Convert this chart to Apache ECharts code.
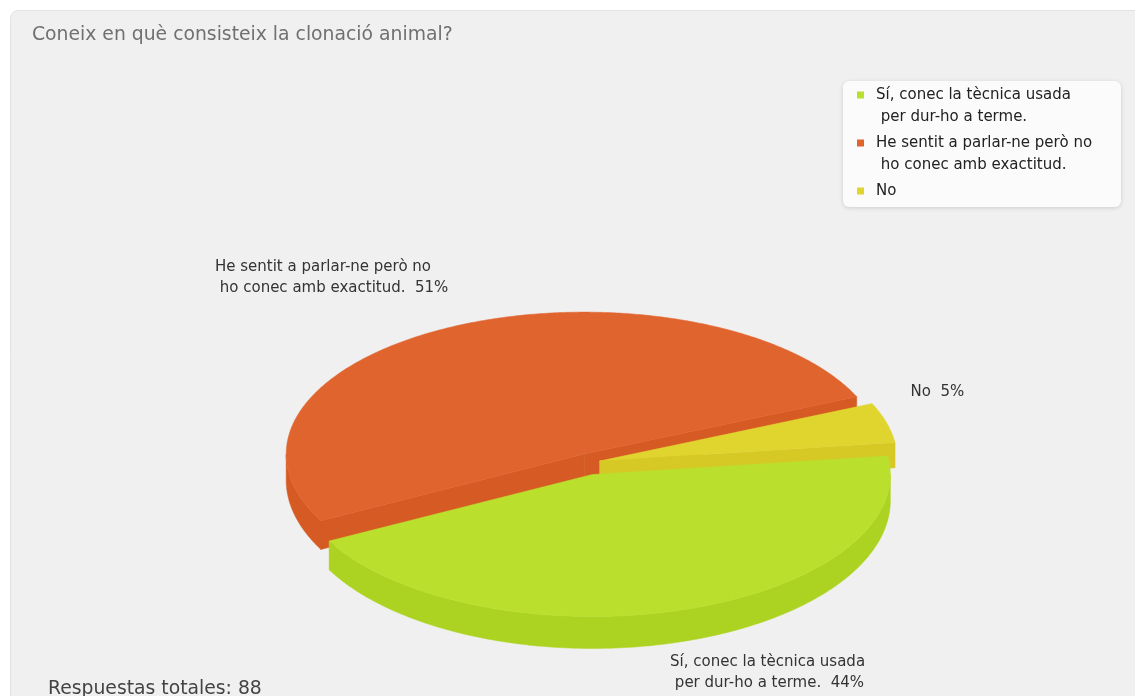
<!DOCTYPE html>
<html>
<head>
<meta charset="utf-8">
<script src="https://cdn.jsdelivr.net/npm/echarts@6.0.0/dist/echarts.min.js"></script>
<style>
  html, body { margin: 0; padding: 0; background: #ffffff; }
  #chart { width: 1135px; height: 696px; }
</style>
</head>
<body>
<div id="chart"></div>
<script>
// Survey question and answers
const TITLE = 'Coneix en què consisteix la clonació animal?';
const CATEGORIES = [
  'Sí, conec la tècnica usada\n per dur-ho a terme.',
  'He sentit a parlar-ne però no\n ho conec amb exactitud.',
  'No'
];
const RESPONSES = [39, 45, 4];
const TOTAL_PREFIX = 'Respuestas totales: ';

// Slice colours: top face and darker side face
const TOP_COLORS = ['#bae02d', '#e0642e', '#e0d52f'];
const SIDE_COLORS = ['#acd321', '#d55a23', '#d6c825'];

// 3D pie geometry (pixels)
const PIE = { cx: 589, cy: 464, rx: 298, ry: 142, depth: 26, tilt: 6, startDeg: -7.5 };
const PULL = 11;                                          // slice separation
const LABEL_SHIFT = [[-13, 42], [-239, -70], [24, -41]];  // label box offset from the rim point
const FONT_LABEL = '15px "DejaVu Sans", sans-serif';
const FONT_TITLE = '18.8px "DejaVu Sans", sans-serif';

const total = RESPONSES.reduce((a, b) => a + b, 0);
const pct = v => Math.round(v / total * 100) + '%';

function arc(cx, cy, rx, ry, a0, a1, step) {
  const pts = [];
  const n = Math.max(2, Math.ceil(Math.abs(a1 - a0) / step));
  for (let j = 0; j <= n; j++) {
    const t = a0 + (a1 - a0) * j / n;
    pts.push([cx + rx * Math.cos(t), cy + ry * Math.sin(t)]);
  }
  return pts;
}

function renderSlice(params, api) {
  const i = params.dataIndex;
  const v = api.value(0);
  let before = 0;
  for (let j = 0; j < i; j++) before += RESPONSES[j];
  const start = PIE.startDeg * Math.PI / 180;
  const a0 = start + before / total * Math.PI * 2;
  const a1 = a0 + v / total * Math.PI * 2;
  const mid = (a0 + a1) / 2;
  const cx = PIE.cx + PULL * Math.cos(mid);
  const cy = PIE.cy + PULL * Math.sin(mid);
  const rx = PIE.rx, ry = PIE.ry;
  const byB = cy + PIE.depth, ryB = ry + PIE.tilt;
  const top = t => [cx + rx * Math.cos(t), cy + ry * Math.sin(t)];
  const bot = t => [cx + rx * Math.cos(t), byB + ryB * Math.sin(t)];
  const step = Math.PI / 360;
  const base = Math.round((Math.sin(mid) + 1) * 10) * 10;
  const side = SIDE_COLORS[i], face = TOP_COLORS[i];
  const children = [];

  // radial cut faces that turn towards the viewer
  const addFace = (t) => children.push({
    type: 'polygon', z2: base + 1,
    shape: { points: [[cx, cy], top(t), bot(t), [cx, byB]] },
    style: { fill: side, stroke: side, lineWidth: 0.5 }
  });
  if (Math.cos(a0) < 0) addFace(a0);
  if (Math.cos(a1) > 0) addFace(a1);

  // outer rim, only the front half of the ellipse
  for (let kk = -1; kk <= 1; kk++) {
    const lo = Math.max(a0, kk * 2 * Math.PI), hi = Math.min(a1, kk * 2 * Math.PI + Math.PI);
    if (hi > lo) {
      const upper = arc(cx, cy, rx, ry, lo, hi, step);
      const lower = arc(cx, byB, rx, ryB, hi, lo, step);
      children.push({
        type: 'polygon', z2: base + 2,
        shape: { points: upper.concat(lower) },
        style: { fill: side, stroke: side, lineWidth: 0.5 }
      });
    }
  }

  // top face
  children.push({
    type: 'polygon', z2: base + 3,
    shape: { points: [[cx, cy]].concat(arc(cx, cy, rx, ry, a0, a1, step)) },
    style: { fill: face, stroke: face, lineWidth: 0.5 }
  });

  // outside label
  const rp = top(mid);
  children.push({
    type: 'text', z2: 500,
    style: {
      text: api.value(1) + '  ' + pct(v),
      x: rp[0] + LABEL_SHIFT[i][0], y: rp[1] + LABEL_SHIFT[i][1],
      font: FONT_LABEL, fill: '#333333', lineHeight: 21,
      align: 'left', verticalAlign: 'top'
    }
  });
  return { type: 'group', children };
}

// Legend box built from the categories
const legendItems = [];
let line = 0;
CATEGORIES.forEach((name, i) => {
  const yc = 95 + line * 22 + i * 4;
  legendItems.push({
    type: 'rect', shape: { x: 857, y: yc - 3.5, width: 7, height: 7 },
    style: { fill: TOP_COLORS[i] }, z: 12
  });
  legendItems.push({
    type: 'text', x: 876, y: yc - 11, z: 12,
    style: { text: name, font: FONT_LABEL, fill: '#222222', lineHeight: 22, align: 'left', verticalAlign: 'top' }
  });
  line += name.split('\n').length;
});

const chart = echarts.init(document.getElementById('chart'), null, { renderer: 'canvas' });
chart.setOption({
  animation: false,
  backgroundColor: '#ffffff',
  graphic: [
    { type: 'rect', z: 0, shape: { x: 10.5, y: 10.5, width: 1140, height: 700, r: 8 },
      style: { fill: '#f0f0f0', stroke: '#e2e2e2', lineWidth: 1 } },
    { type: 'text', z: 5, x: 32, y: 35,
      style: { text: TITLE, font: FONT_TITLE, fill: '#707070', verticalAlign: 'middle' } },
    { type: 'text', z: 5, x: 48, y: 689,
      style: { text: TOTAL_PREFIX + total, font: FONT_TITLE, fill: '#444444', verticalAlign: 'middle' } },
    { type: 'rect', z: 11, shape: { x: 843, y: 81, width: 278, height: 126, r: 6 },
      style: { fill: '#fbfbfb', shadowBlur: 4, shadowColor: 'rgba(0,0,0,0.15)', shadowOffsetY: 1 } },
    ...legendItems
  ],
  series: [{
    type: 'custom',
    coordinateSystem: 'none',
    silent: true,
    z: 5,
    renderItem: renderSlice,
    data: RESPONSES.map((v, i) => [v, CATEGORIES[i]])
  }]
});
</script>
</body>
</html>
